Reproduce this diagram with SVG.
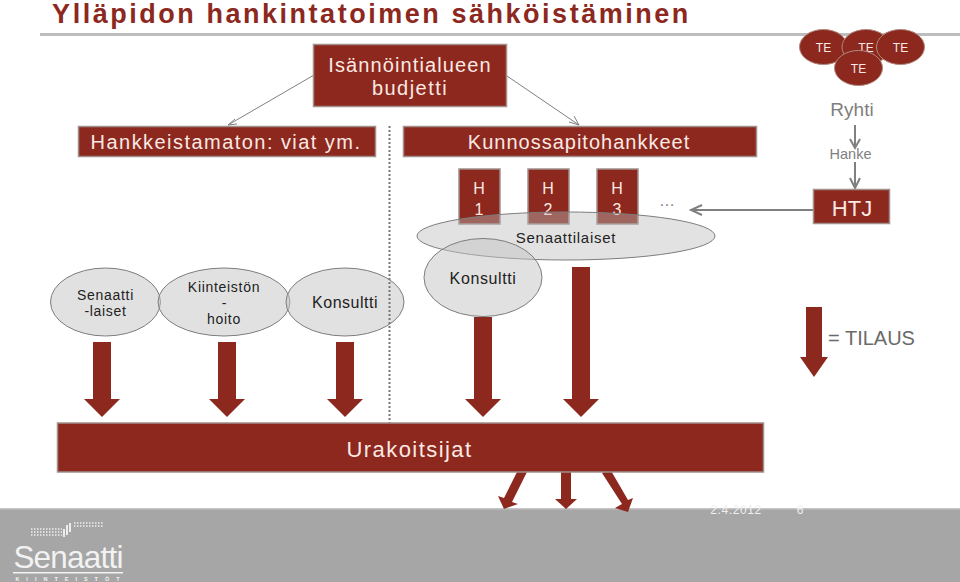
<svg xmlns="http://www.w3.org/2000/svg" width="960" height="582" viewBox="0 0 960 582">
<style>
text{font-family:"Liberation Sans",Arial,sans-serif;text-anchor:middle}
.box{fill:#8c281e;stroke:#a08f8b;stroke-width:1.5}
.ell{fill:#c4c4c4;fill-opacity:.5;stroke:#7d7d7d;stroke-width:1}
.w{fill:#fbe9e4}
.k{fill:#222}
.g{fill:#808080}
.arr{fill:#8c281e}
.te{fill:#8c281e;stroke:#b08a80;stroke-width:1}
.ln{fill:none;stroke:#808080;stroke-width:1}
.ln2{fill:none;stroke:#808080;stroke-width:2}
</style>
<rect width="960" height="582" fill="#fff"/>
<rect x="40" y="33" width="920" height="3" fill="#bdbdbd"/>
<text x="371.500" y="23" font-size="27" font-weight="bold" fill="#8c281e" letter-spacing="2.53">Ylläpidon hankintatoimen sähköistäminen</text>
<g id="footer">
<rect y="509" width="960" height="73" fill="#a6a6a6"/>
<rect y="508" width="960" height="1.500" fill="#c4c4c4"/>
<text x="736" y="514" font-size="12" fill="#f0f0f0" letter-spacing=".6">2.4.2012</text>
<text x="800" y="514" font-size="12" fill="#f0f0f0">6</text>
<path d="M31 535H62M31 532H62M31 529H62M74 526H104M74 523H104" stroke="#eee" stroke-width="1.500" stroke-dasharray="1.500 1.500" fill="none"/>
<path d="M64 537V529M67 535V525M70 532V523" stroke="#f4f4f4" stroke-width="1.800" fill="none"/>
<text x="68" y="568" font-size="31.500" fill="#f2f2f2" letter-spacing="-.8">Senaatti</text>
<rect x="13" y="572" width="110" height="1.500" fill="#f2f2f2"/>
<text x="71" y="581" font-size="5.500" font-weight="bold" fill="#f2f2f2" letter-spacing="7">KIINTEISTÖT</text>
</g>
<g id="connectors">
<path class="ln" d="M314 75L228 125M235 119L228 125L237 124M507 76L579 125M569 122L579 125L574 116"/>
<path class="ln2" d="M855 125V148M850 139L855 148L860 139M855 162V188M850 178L855 188L860 178M813 210H691M702 205L691 210L702 215"/>
</g>
<g id="n-budjetti"><rect class="box" x="313.500" y="44.500" width="193" height="62"/>
<text class="w" x="410" y="72" font-size="20" letter-spacing="1.100">Isännöintialueen</text><text class="w" x="410" y="95" font-size="20" letter-spacing="1.450">budjetti</text></g>
<g id="n-hankkeistamaton"><rect class="box" x="78.500" y="126.500" width="297" height="30"/>
<text class="w" x="226" y="149" font-size="20" letter-spacing="1.450">Hankkeistamaton: viat ym.</text></g>
<g id="n-kunnossapito"><rect class="box" x="403.500" y="126.500" width="353" height="30"/>
<text class="w" x="579" y="149" font-size="20" letter-spacing="1">Kunnossapitohankkeet</text></g>
<g id="n-h1"><rect class="box" x="459" y="169" width="41" height="55"/><text class="w" x="479" y="194" font-size="16">H</text><text class="w" x="479" y="215" font-size="16">1</text></g>
<g id="n-h2"><rect class="box" x="528" y="169" width="41" height="55"/><text class="w" x="548" y="194" font-size="16">H</text><text class="w" x="548" y="215" font-size="16">2</text></g>
<g id="n-h3"><rect class="box" x="597" y="169" width="41" height="55"/><text class="w" x="617" y="194" font-size="16">H</text><text class="w" x="617" y="215" font-size="16">3</text></g>
<text class="g" x="667" y="206" font-size="16">…</text>
<g id="n-senaattilaiset"><ellipse cx="566" cy="236" rx="149" ry="24" fill="#bbb" fill-opacity=".42" stroke="#7d7d7d"/>
<text class="k" x="566" y="243" font-size="15" letter-spacing=".75">Senaattilaiset</text></g>
<g id="n-konsultti2"><ellipse class="ell" cx="483" cy="277.500" rx="59" ry="39"/>
<text class="k" x="483" y="284" font-size="16" letter-spacing=".6">Konsultti</text></g>
<g id="n-senaatti"><ellipse class="ell" cx="105.500" cy="302" rx="55" ry="34"/>
<text class="k" x="105.500" y="300" font-size="14" letter-spacing=".7">Senaatti</text><text class="k" x="105.500" y="316" font-size="14" letter-spacing=".7">-laiset</text></g>
<g id="n-kiinteiston"><ellipse class="ell" cx="224" cy="302" rx="66" ry="34"/>
<text class="k" x="224" y="292" font-size="14" letter-spacing=".7">Kiinteistön</text><text class="k" x="224" y="308" font-size="14">-</text><text class="k" x="224" y="324" font-size="14" letter-spacing=".7">hoito</text></g>
<g id="n-konsultti1"><ellipse class="ell" cx="345" cy="302" rx="59" ry="34"/>
<text class="k" x="345" y="308" font-size="16" letter-spacing=".5">Konsultti</text></g>
<path id="divider" d="M389.500 126V424" fill="none" stroke="#777" stroke-width="2" stroke-dasharray="2 2"/>
<g id="arrows">
<path class="arr" d="M93 342h18v57h9l-18 18l-18-18h9z"/>
<path class="arr" d="M218 342h18v57h9l-18 18l-18-18h9z"/>
<path class="arr" d="M336 342h18v57h9l-18 18l-18-18h9z"/>
<path class="arr" d="M474 317h18v82h9l-18 18l-18-18h9z"/>
<path class="arr" d="M572 267h18v132h9l-18 18l-18-18h9z"/>
<path class="arr" d="M806 307h16v50h6l-14 20l-14-20h6z"/>
<path class="arr" d="M519 468L527 472L512 502L518 504L504 509L498 496L504 498z"/>
<path class="arr" d="M561 472H571V499H577L566 509L555 499H561z"/>
<path class="arr" d="M602 473L610 469L628 500L633 498L628 512L615 508L622 504z"/>
</g>
<g id="n-urakoitsijat"><rect class="box" x="57.500" y="423" width="706" height="49" stroke="none"/>
<text class="w" x="409.500" y="457" font-size="22" letter-spacing="1.450">Urakoitsijat</text></g>
<g id="n-te1"><ellipse class="te" cx="823.500" cy="47" rx="24" ry="17.500"/><text class="w" x="823.500" y="52" font-size="12">TE</text></g>
<g id="n-te2"><ellipse class="te" cx="866" cy="47" rx="24" ry="17.500"/><text class="w" x="866" y="52" font-size="12">TE</text></g>
<g id="n-te3"><ellipse class="te" cx="900.500" cy="47" rx="24" ry="17.500"/><text class="w" x="900.500" y="52" font-size="12">TE</text></g>
<g id="n-te4"><ellipse class="te" cx="858.500" cy="68" rx="24" ry="17.500"/><text class="w" x="858.500" y="73" font-size="12">TE</text></g>
<text class="g" x="852" y="116" font-size="19">Ryhti</text>
<text class="g" x="850.500" y="159" font-size="14.500">Hanke</text>
<g id="n-htj"><rect class="box" x="813.500" y="189.500" width="76" height="34"/><text class="w" x="852" y="216" font-size="22">HTJ</text></g>
<text x="871.500" y="345" font-size="20" fill="#6a6a6a">= TILAUS</text>
</svg>
